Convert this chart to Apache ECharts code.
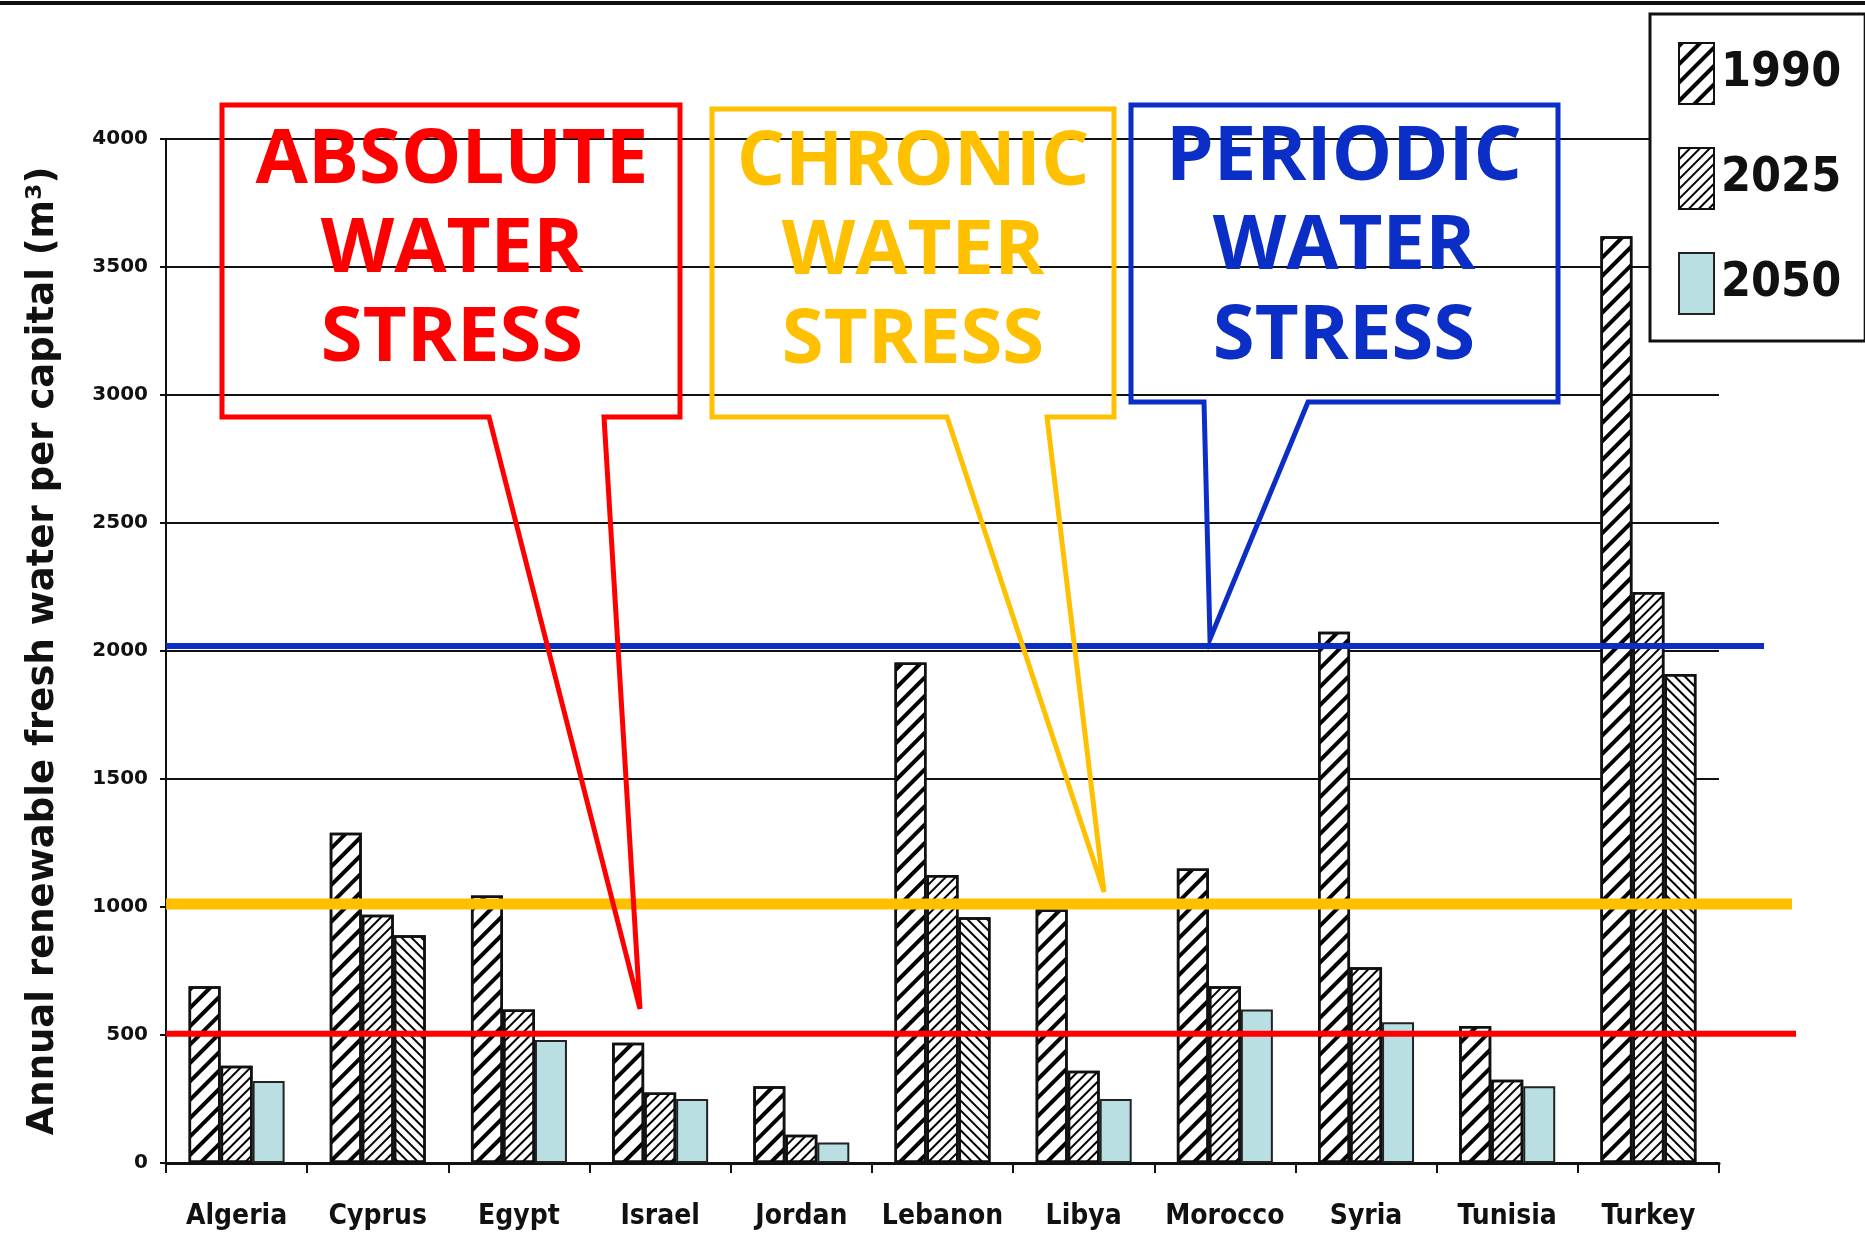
<!DOCTYPE html>
<html>
<head>
<meta charset="utf-8">
<title>Annual renewable fresh water per capita</title>
<script src="https://cdn.jsdelivr.net/npm/echarts@6/dist/echarts.min.js"></script>
<style>
  html, body { margin: 0; padding: 0; background: #fff; }
  #chart { width: 1865px; height: 1254px; }
</style>
</head>
<body>
<div id="chart"></div>
<script>
// data (m3 per capita)
const countries = ['Algeria', 'Cyprus', 'Egypt', 'Israel', 'Jordan', 'Lebanon', 'Libya', 'Morocco', 'Syria', 'Tunisia', 'Turkey'];
const years = ['1990', '2025', '2050'];
const water1990 = [690, 1290, 1045, 470, 300, 1955, 990, 1150, 2075, 535, 3620];
const water2025 = [380, 970, 600, 275, 110, 1125, 360, 690, 765, 325, 2230];
const water2050 = [320, 890, 480, 250, 80, 960, 250, 600, 550, 300, 1910];
const hatched2050 = ['Cyprus', 'Lebanon', 'Turkey'];   // these 2050 bars are hatched, not blue
const yTicks = [0, 500, 1000, 1500, 2000, 2500, 3000, 3500, 4000];

// stress thresholds: absolute / chronic / periodic
const stressLevels = [505, 1012, 2020];
const stressText = [
  ['ABSOLUTE', 'WATER', 'STRESS'],
  ['CHRONIC', 'WATER', 'STRESS'],
  ['PERIODIC', 'WATER', 'STRESS']
];

// styling
const RED = '#ff0000', GOLD = '#ffc000', BLUE = '#0b2fc6';
const stressColors = [RED, GOLD, BLUE];
const stressWidths = [6, 11, 6];
const stressLineEnd = [1796, 1792, 1764];

// callout boxes (pixel layout): rect, pointer base x's, pointer tip, text centre
const bubbles = [
  { x1: 222, y1: 105, x2: 680, y2: 417, b1: 489, b2: 604, tip: [640, 1009], cx: 452, ty: [161, 250, 339] },
  { x1: 712, y1: 109, x2: 1114, y2: 417, b1: 947, b2: 1047, tip: [1104, 892], cx: 913, ty: [163, 252, 341] },
  { x1: 1131, y1: 105, x2: 1558, y2: 402, b1: 1204, b2: 1308, tip: [1210, 639], cx: 1344, ty: [158, 247, 337] }
];

const hatchWide = { symbol: 'rect', symbolSize: 1, dashArrayX: [1, 0], dashArrayY: [3.5, 8.5], rotation: -Math.PI / 4, color: '#000' };
const hatchFine = { symbol: 'rect', symbolSize: 1, dashArrayX: [1, 0], dashArrayY: [1.6, 4.2], rotation: -Math.PI / 4, color: '#000' };
const hatchBack = { symbol: 'rect', symbolSize: 1, dashArrayX: [1, 0], dashArrayY: [1.6, 4.2], rotation: Math.PI / 4, color: '#000' };

const chart = echarts.init(document.getElementById('chart'));

const barBase = { type: 'bar', barWidth: 32, barGap: '0%', z: 2 };

chart.setOption({
  animation: false,
  backgroundColor: '#fff',
  grid: { left: 166, right: 146, top: 139, bottom: 91 },
  legend: {
    data: years,
    orient: 'vertical',
    left: 1650,
    top: 14,
    padding: [28, 24, 26, 28],
    itemWidth: 35,
    itemHeight: 61,
    itemGap: 42,
    icon: 'rect',
    backgroundColor: '#fff',
    borderColor: '#111',
    borderWidth: 3,
    textStyle: { fontFamily: 'Liberation Sans Narrow, DejaVu Sans Condensed, sans-serif', fontWeight: 'bold', fontSize: 48, color: '#111', padding: [0, 0, 0, 2] }
  },
  xAxis: {
    type: 'category',
    data: countries,
    axisLine: { lineStyle: { color: '#111', width: 3 } },
    axisTick: { show: true, interval: 0, length: 10, lineStyle: { color: '#111', width: 2 } },
    axisLabel: { interval: 0, margin: 40, fontFamily: 'Liberation Sans Narrow, DejaVu Sans Condensed, sans-serif', fontWeight: 'bold', fontSize: 28, color: '#111' }
  },
  yAxis: {
    type: 'value',
    min: yTicks[0],
    max: yTicks[yTicks.length - 1],
    interval: yTicks[1] - yTicks[0],
    name: 'Annual renewable fresh water per capital (m³)',
    nameLocation: 'middle',
    nameGap: 104,
    nameTextStyle: { fontFamily: 'DejaVu Sans', fontWeight: 'bold', fontSize: 37, color: '#111' },
    axisLine: { show: true, lineStyle: { color: '#111', width: 2 } },
    axisTick: { show: true, length: 6, lineStyle: { color: '#111', width: 2 } },
    axisLabel: { margin: 18, fontFamily: 'DejaVu Sans', fontWeight: 'bold', fontSize: 20, color: '#111', formatter: v => String(v) },
    splitLine: { lineStyle: { color: '#111', width: 2 } }
  },
  series: [
    Object.assign({}, barBase, {
      name: years[0],
      data: water1990,
      itemStyle: { color: '#fff', borderColor: '#111', borderWidth: 2.5, decal: hatchWide }
    }),
    Object.assign({}, barBase, {
      name: years[1],
      data: water2025,
      itemStyle: { color: '#fff', borderColor: '#111', borderWidth: 2.5, decal: hatchFine }
    }),
    Object.assign({}, barBase, {
      name: years[2],
      data: water2050.map((v, i) => hatched2050.includes(countries[i])
        ? { value: v, itemStyle: { color: '#fff', borderColor: '#111', borderWidth: 2.5, decal: hatchBack } }
        : v),
      itemStyle: { color: '#b9dfe3', borderColor: '#222', borderWidth: 2 }
    })
  ]
});

// threshold lines and callouts, placed through the y axis scale
const x0 = chart.convertToPixel({ xAxisIndex: 0 }, countries[0]) - 70.5;
const graphics = [
  { type: 'rect', shape: { x: 0, y: 1, width: 1865, height: 4 }, style: { fill: '#111' }, z: 10 }
];
stressLevels.forEach((v, i) => {
  const y = chart.convertToPixel({ yAxisIndex: 0 }, v);
  graphics.push({
    type: 'line',
    shape: { x1: x0, y1: y, x2: stressLineEnd[i], y2: y },
    style: { stroke: stressColors[i], lineWidth: stressWidths[i] },
    z: 20
  });
});
bubbles.forEach((b, i) => {
  graphics.push({
    type: 'polygon',
    shape: { points: [[b.x1, b.y1], [b.x2, b.y1], [b.x2, b.y2], [b.b2, b.y2], b.tip, [b.b1, b.y2], [b.x1, b.y2]] },
    style: { fill: null, stroke: stressColors[i], lineWidth: 5, lineJoin: 'miter' },
    z: 30
  });
  stressText[i].forEach((t, j) => {
    graphics.push({
      type: 'text',
      style: {
        text: t, x: b.cx, y: b.ty[j], align: 'center', verticalAlign: 'middle',
        fill: stressColors[i], font: 'bold 76px "Open Sans", "Noto Sans", sans-serif'
      },
      z: 31
    });
  });
});
chart.setOption({ graphic: graphics });
</script>
</body>
</html>
